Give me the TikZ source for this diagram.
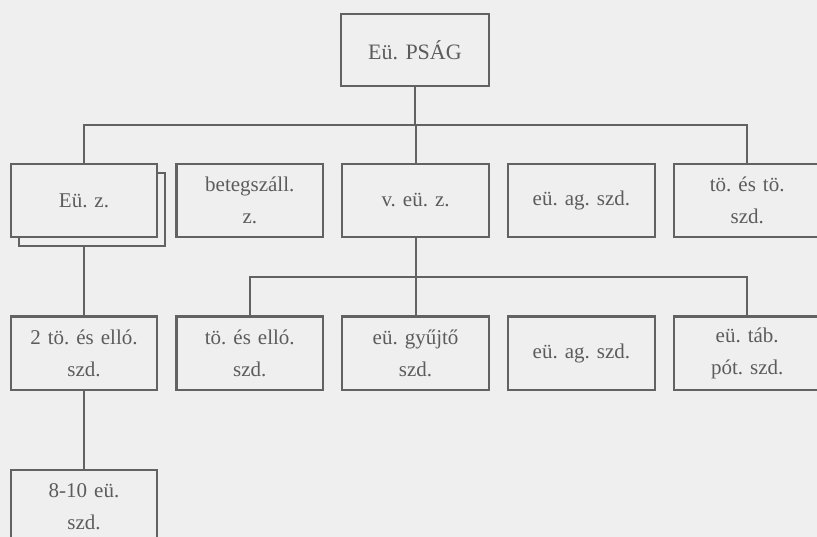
\documentclass[tikz,border=0pt]{standalone}
\usepackage{fontspec}
\setmainfont{Liberation Serif}
\usepackage{tikz}
\usetikzlibrary{positioning,shadows}

\definecolor{bgpaper}{HTML}{EFEFEF}
\definecolor{inkgray}{HTML}{5C5C5C}
\definecolor{linegray}{HTML}{626262}

\newcommand{\boxfont}{\fontsize{21}{32}\selectfont\frenchspacing\spaceskip=0.5em\relax}
\newcommand{\topfont}{\fontsize{22}{26}\selectfont\frenchspacing\spaceskip=0.4em\relax}

\begin{document}
\begin{tikzpicture}[semithick,node distance=17pt,line width=2.1pt,draw=linegray]
\tikzstyle{every node}=[text=inkgray,font=\boxfont]
\tikzstyle{unit}=[draw=linegray,fill=bgpaper,line width=2.2pt,minimum width=146.6pt,
  minimum height=73.6pt,text width=137pt,inner xsep=4.8pt,align=center]
\tikzstyle{group}=[unit,copy shadow={shadow xshift=8pt,shadow yshift=-9pt}]

\fill[bgpaper] (0pt,0pt) rectangle (817pt,-537pt);
\useasboundingbox (0pt,0pt) rectangle (817pt,-537pt);

\node[unit,minimum width=147.6pt,minimum height=72.6pt,font=\topfont] (psag) at (415pt,-50pt) {Eü. PSÁG};

\node[group] (ez) at (84pt,-200.5pt) {Eü. z.};
\node[unit,right=of ez] (bz) {betegszáll.\\ z.};
\node[unit,right=of bz] (vez) {v. eü. z.};
\node[unit,right=of vez] (ag1) {eü. ag. szd.};
\node[unit,right=of ag1] (tt) {tö. és tö.\\ szd.};

\node[unit,below=77pt of ez] (te2) {2 tö. és elló.\\ szd.};
\node[unit,right=of te2] (te) {tö. és elló.\\ szd.};
\node[unit,right=of te] (gy) {eü. gyűjtő\\ szd.};
\node[unit,right=of gy] (ag2) {eü. ag. szd.};
\node[unit,right=of ag2] (tp) {eü. táb.\\ pót. szd.};

\node[unit,below=78pt of te2] (eu) {8-10 eü.\\ szd.};

\draw[linegray] (psag.south) -- ++(0,-38pt) coordinate (j1);
\draw[linegray] (ez.north) |- (j1) -| (tt.north);
\draw[linegray] (vez.north) -- (vez.north |- j1);
\draw[linegray] (vez.south) -- (gy.north);
\draw[linegray] (te.north) |- ([yshift=-39pt]vez.south) -| (tp.north);
\draw[linegray] ([yshift=-9pt]ez.south) -- (te2.north);
\draw[linegray] (te2.south) -- (eu.north);
\end{tikzpicture}
\end{document}
